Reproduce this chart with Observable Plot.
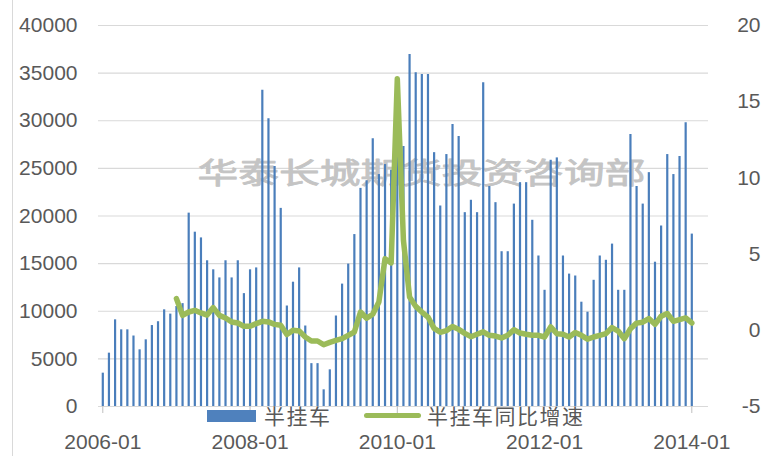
<!DOCTYPE html>
<html>
<head>
<meta charset="utf-8">
<script src="https://cdn.jsdelivr.net/npm/d3@7"></script>
<script src="https://cdn.jsdelivr.net/npm/@observablehq/plot@0.6"></script>
<style>
  body { margin: 0; background: #fff; }
  #wrap { position: relative; width: 772px; height: 456px; overflow: hidden; font-family: "Liberation Sans", Arial, sans-serif; }
  #vline { position: absolute; left: 12px; top: 0; width: 1px; height: 456px; background: #d9d9d9; }
  #legend { position: absolute; left: 0; top: 0; width: 772px; height: 456px; pointer-events: none; }
  .sw { position: absolute; }
  .lt { position: absolute; font-family: "Noto Sans CJK SC", sans-serif; font-size: 21px; line-height: 22px; height: 22px; color: #595959; white-space: nowrap; letter-spacing: 1.5px; }
</style>
</head>
<body>
<div id="wrap"><div id="vline"></div></div>
<script>
// categories: monthly, 2006-01 .. 2014-01
const months = d3.utcMonth.range(new Date(Date.UTC(2006, 0, 1)), new Date(Date.UTC(2014, 1, 1))).map(d3.utcFormat("%Y-%m"));

// 半挂车 monthly sales (left axis)
const trailerSales = [
  3500, 5600, 9100, 8050, 8050, 7400, 5950, 7000, 8500, 8900, 10150, 9700,        // 2006
  10500, 10800, 20300, 18300, 17700, 15300, 14350, 13500, 15300, 13500, 15300, 11850, // 2007
  14350, 14550, 33200, 30200, 25200, 20800, 10550, 13050, 14550, 8450, 4500, 4500,   // 2008
  1750, 3850, 9500, 12850, 14950, 18050, 22900, 23700, 28100, 24350, 25400, 24800,   // 2009
  30500, 27300, 36950, 35050, 34850, 34850, 26650, 21050, 26450, 29600, 28350, 20350, // 2010
  21650, 20350, 34000, 23100, 21400, 16250, 16250, 21250, 23500, 23500, 19550, 15800, // 2011
  12200, 25850, 26100, 15800, 13900, 13700, 10950, 9900, 13250, 15800, 15350, 17050, // 2012
  12200, 12200, 28550, 23100, 21250, 24550, 15150, 18950, 26450, 24350, 26250, 29800, // 2013
  18100                                                                                // 2014
];

// 半挂车同比增速 (right axis), starts 2007-01
const growthStart = "2007-01";
const growth = [
  2.08, 0.98, 1.2, 1.31, 1.14, 1.0, 1.49, 0.98, 0.81, 0.55, 0.48, 0.26,        // 2007
  0.26, 0.44, 0.59, 0.55, 0.39, 0.33, -0.28, 0.0, -0.04, -0.44, -0.7, -0.7,    // 2008
  -0.95, -0.79, -0.66, -0.55, -0.33, -0.11, 1.2, 0.79, 1.05, 1.86, 4.7, 4.42,  // 2009
  16.5, 5.9, 2.19, 1.57, 1.2, 0.87, 0.13, -0.13, -0.02, 0.25, 0.06, -0.2,      // 2010
  -0.42, -0.26, -0.1, -0.33, -0.38, -0.5, -0.33, 0.04, -0.18, -0.26, -0.33, -0.33, // 2011
  -0.44, 0.22, -0.22, -0.26, -0.44, -0.15, -0.33, -0.58, -0.44, -0.33, -0.22, 0.18, // 2012
  -0.05, -0.55, 0.1, 0.47, 0.53, 0.77, 0.39, 0.92, 1.1, 0.59, 0.7, 0.81,       // 2013
  0.48                                                                          // 2014
];

const xTicks = ["2006-01", "2008-01", "2010-01", "2012-01", "2014-01"];
const leftTicks = [0, 5000, 10000, 15000, 20000, 25000, 30000, 35000, 40000];
const rightTicks = [-5, 0, 5, 10, 15, 20];
const seriesNames = ["半挂车", "半挂车同比增速"];
const seriesColors = ["#4a7ebb", "#9bbb59"];
const watermark = "华泰长城期货投资咨询部";

const y2 = d3.scaleLinear([-5, 20], [0, 40000]);
const g0 = months.indexOf(growthStart);
const bars = months.map((m, i) => ({month: m, value: trailerSales[i]}));
const lineData = growth.map((g, i) => ({month: months[g0 + i], value: g}));

const chart = Plot.plot({
  width: 772,
  height: 456,
  marginLeft: 98,
  marginRight: 64,
  marginTop: 25,
  marginBottom: 50,
  style: {fontFamily: "'Liberation Sans', Arial, sans-serif", fontSize: "21px", color: "#595959", background: "transparent", overflow: "visible"},
  x: {type: "point", domain: months, range: [102.3, 691.3], padding: 0, round: false, label: null},
  y: {domain: [0, 40000], label: null},
  marks: [
    Plot.ruleY(leftTicks, {stroke: "#d9d9d9", strokeWidth: 1.2}),
    Plot.text([watermark], {frameAnchor: "middle", dx: 18, dy: -41.5, fontSize: 29, fontWeight: "normal", fill: "#c4c4c4", stroke: "#c4c4c4", strokeWidth: 0.8, fontFamily: "'Noto Sans CJK SC', sans-serif"}),
    Plot.ruleX(bars, {x: "month", y1: 0, y2: "value", stroke: seriesColors[0], strokeWidth: 2.2}),
    Plot.line(lineData, {x: "month", y: d => y2(d.value), stroke: seriesColors[1], strokeWidth: 5.5, strokeLinejoin: "round", strokeLinecap: "round"}),
    Plot.axisY(leftTicks, {anchor: "left", tickSize: 0, tickPadding: 21, tickFormat: d => String(d), fill: "#595959", fontSize: 21}),
    Plot.axisY(rightTicks.map(y2), {anchor: "right", tickSize: 0, tickPadding: 52, textAnchor: "end", tickFormat: d => String(Math.round(y2.invert(d))), fill: "#595959", fontSize: 21}),
    Plot.axisX(xTicks, {anchor: "bottom", tickSize: 7, tickPadding: 21, stroke: "#bfbfbf", fill: "#595959", fontSize: 21})
  ]
});

// stretch watermark like the reference
chart.querySelectorAll("text").forEach(t => {
  if (t.textContent === watermark) {
    t.setAttribute("textLength", 448);
    t.setAttribute("lengthAdjust", "spacingAndGlyphs");
  }
});

const wrap = document.getElementById("wrap");
wrap.appendChild(chart);

// legend
const legend = document.createElement("div");
legend.id = "legend";
const sw1 = document.createElement("div");
sw1.className = "sw";
Object.assign(sw1.style, {left: "207px", top: "410px", width: "49px", height: "12px", background: "#4f81bd"});
const t1 = document.createElement("div");
t1.className = "lt";
t1.textContent = seriesNames[0];
Object.assign(t1.style, {left: "264px", top: "404px"});
const sw2 = document.createElement("div");
sw2.className = "sw";
Object.assign(sw2.style, {left: "364px", top: "413px", width: "57px", height: "5px", background: seriesColors[1], borderRadius: "3px"});
const t2 = document.createElement("div");
t2.className = "lt";
t2.textContent = seriesNames[1];
Object.assign(t2.style, {left: "427px", top: "404px"});
legend.append(sw1, t1, sw2, t2);
wrap.appendChild(legend);
</script>
</body>
</html>
